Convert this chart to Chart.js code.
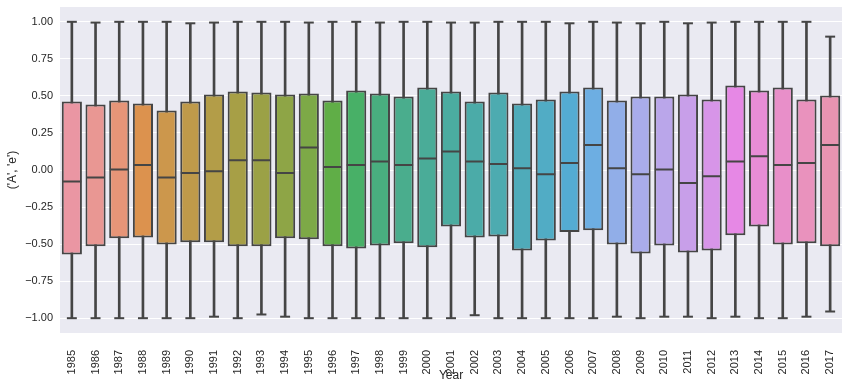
<!DOCTYPE html>
<html>
<head>
<meta charset="utf-8">
<script src="https://cdn.jsdelivr.net/npm/chart.js@4.4.1/dist/chart.umd.min.js"></script>
<style>
  html, body { margin: 0; padding: 0; background: #ffffff; }
  #wrap { width: 848px; height: 390px; position: relative; }
</style>
</head>
<body>
<div id="wrap"><canvas id="c" width="848" height="390"></canvas></div>
<script>
// ---- data ----
const years = ['1985','1986','1987','1988','1989','1990','1991','1992','1993','1994',
               '1995','1996','1997','1998','1999','2000','2001','2002','2003','2004',
               '2005','2006','2007','2008','2009','2010','2011','2012','2013','2014',
               '2015','2016','2017'];
const whiskerLow = [-1.0,-1.0,-1.0,-1.0,-1.0,-1.0,-0.99,-1.0,-0.975,-0.99,
                    -1.0,-1.0,-1.0,-1.0,-1.0,-1.0,-1.0,-0.98,-1.0,-1.0,
                    -1.0,-1.0,-1.0,-0.99,-1.0,-0.99,-0.99,-1.0,-0.99,-1.0,
                    -1.0,-0.99,-0.955];
const q1 = [-0.570,-0.515,-0.461,-0.455,-0.502,-0.488,-0.488,-0.515,-0.515,-0.461,
            -0.468,-0.515,-0.529,-0.509,-0.495,-0.522,-0.381,-0.455,-0.448,-0.543,
            -0.475,-0.419,-0.407,-0.502,-0.563,-0.509,-0.556,-0.543,-0.441,-0.381,
            -0.502,-0.495,-0.515];
const median = [-0.077,-0.050,0.004,0.033,-0.050,-0.021,-0.009,0.065,0.065,-0.021,
                0.152,0.020,0.033,0.058,0.033,0.078,0.125,0.058,0.040,0.011,
                -0.028,0.047,0.168,0.011,-0.028,0.004,-0.088,-0.043,0.058,0.092,
                0.033,0.047,0.168];
const q3 = [0.463,0.442,0.469,0.449,0.402,0.463,0.510,0.530,0.523,0.510,
            0.516,0.469,0.537,0.516,0.496,0.557,0.530,0.463,0.523,0.449,
            0.476,0.530,0.557,0.469,0.496,0.496,0.510,0.476,0.570,0.537,
            0.557,0.476,0.503];
const whiskerHigh = [1.0,0.995,1.0,1.0,1.0,0.99,0.995,1.0,1.0,1.0,
                     0.995,1.0,1.0,0.995,1.0,1.0,0.995,0.995,1.0,1.0,
                     1.0,0.99,1.0,0.995,0.99,1.0,0.99,0.995,1.0,1.0,
                     1.0,1.0,0.90];
const yTicks = [-1.0,-0.75,-0.5,-0.25,0.0,0.25,0.5,0.75,1.0];

// ---- seaborn-like husl palette (l=.7, desaturated 0.75) ----
const M = [[3.2406,-1.5372,-0.4986],[-0.9689,1.8758,0.0415],[0.0557,-0.2040,1.0570]];
const refU = 0.19784, refV = 0.46834;
function maxChroma(L, H) {
  const hr = H * Math.PI / 180, sinH = Math.sin(hr), cosH = Math.cos(hr);
  const sub1 = Math.pow(L + 16, 3) / 1560896.0;
  const sub2 = sub1 > 0.008856 ? sub1 : L / 903.3;
  let res = Infinity;
  for (const [m1, m2, m3] of M) {
    const top = (0.99915*m1 + 1.05122*m2 + 1.14460*m3) * sub2;
    const rb = 0.86330*m3 - 0.17266*m2;
    const lb = 0.12949*m3 - 0.38848*m1;
    const bottom = (rb*sinH + lb*cosH) * sub2;
    for (const t of [0, 1]) {
      const C = L * (top - 1.05122*t) / (bottom + 0.17266*sinH*t);
      if (C > 0 && C < res) res = C;
    }
  }
  return res;
}
function huslToRgb(H, S, L) {
  const C = maxChroma(L, H) / 100 * S;
  const hr = H * Math.PI / 180;
  const U = Math.cos(hr) * C, V = Math.sin(hr) * C;
  const t = (L + 16) / 116;
  const varY = Math.pow(t,3) > 0.008856 ? Math.pow(t,3) : (116*t - 16) / 903.3;
  const varU = U / (13*L) + refU, varV = V / (13*L) + refV;
  const Y = varY;
  const X = -(9*Y*varU) / ((varU - 4)*varV - varU*varV);
  const Z = (9*Y - 15*varV*Y - varV*X) / (3*varV);
  return M.map(r => {
    const c = r[0]*X + r[1]*Y + r[2]*Z;
    const v = c <= 0.0031308 ? 12.92*c : 1.055*Math.pow(c, 1/2.4) - 0.055;
    return Math.min(1, Math.max(0, v));
  });
}
function rgbToHls(r,g,b){
  const mx=Math.max(r,g,b), mn=Math.min(r,g,b), l=(mx+mn)/2;
  if (mx===mn) return [0,l,0];
  const d=mx-mn, s = l<=0.5 ? d/(mx+mn) : d/(2-mx-mn);
  let h;
  if (mx===r) h=(g-b)/d; else if (mx===g) h=2+(b-r)/d; else h=4+(r-g)/d;
  h=(h/6)%1; if(h<0)h+=1;
  return [h,l,s];
}
function hlsToRgb(h,l,s){
  if (s===0) return [l,l,l];
  const m2 = l<=0.5 ? l*(1+s) : l+s-l*s, m1 = 2*l-m2;
  const f = (hue)=>{ hue=((hue%1)+1)%1;
    if (hue<1/6) return m1+(m2-m1)*hue*6;
    if (hue<0.5) return m2;
    if (hue<2/3) return m1+(m2-m1)*(2/3-hue)*6;
    return m1; };
  return [f(h+1/3), f(h), f(h-1/3)];
}
const toHex = (rgb) => '#' + rgb.map(v => Math.round(v*255).toString(16).padStart(2,'0')).join('');
const n = years.length;
const rgbColors = years.map((_, i) => {
  const h = ((i / n + 0.01) % 1) * 359;
  const rgb = huslToRgb(h, 0.9*99, 0.7*99);
  const [hh, ll, ss] = rgbToHls(...rgb);
  return hlsToRgb(hh, ll, ss*0.75);
});
const boxColors = rgbColors.map(toHex);
const lum = Math.min(...rgbColors.map(c => rgbToHls(...c)[1])) * 0.6;
const gray = toHex([lum, lum, lum]);

const catW = (ctx) => {
  const xs = ctx.chart.scales && ctx.chart.scales.x;
  return xs ? xs.width / years.length : 23.7;
};

const bgPlugin = {
  id: 'bg',
  beforeDraw(chart) {
    const {ctx, chartArea: a} = chart;
    ctx.save();
    ctx.fillStyle = '#EAEAF2';
    ctx.fillRect(a.left, a.top, a.right - a.left, a.bottom - a.top);
    ctx.restore();
  }
};

new Chart(document.getElementById('c'), {
  type: 'bar',
  data: {
    labels: years,
    datasets: [
      {
        type: 'line', label: 'median', data: median, showLine: false,
        pointStyle: 'line', pointRadius: (ctx) => catW(ctx) * 0.4,
        pointBorderColor: gray, pointBorderWidth: 2, pointBackgroundColor: gray,
        order: 0
      },
      {
        type: 'line', label: 'capHigh', data: whiskerHigh, showLine: false,
        pointStyle: 'line', pointRadius: (ctx) => catW(ctx) * 0.21,
        pointBorderColor: gray, pointBorderWidth: 2, order: 1
      },
      {
        type: 'line', label: 'capLow', data: whiskerLow, showLine: false,
        pointStyle: 'line', pointRadius: (ctx) => catW(ctx) * 0.21,
        pointBorderColor: gray, pointBorderWidth: 2, order: 1
      },
      {
        type: 'bar', label: 'box', data: q1.map((v, i) => [v, q3[i]]),
        backgroundColor: boxColors, borderColor: gray, borderWidth: 2,
        borderSkipped: false, grouped: false,
        barPercentage: 0.85, categoryPercentage: 1.0, order: 2
      },
      {
        type: 'bar', label: 'whisker', data: whiskerLow.map((v, i) => [v, whiskerHigh[i]]),
        backgroundColor: gray, borderWidth: 0, barThickness: 2, grouped: false,
        order: 3
      }
    ]
  },
  options: {
    responsive: false,
    animation: false,
    layout: { padding: { top: 7, right: 6, left: 0, bottom: 0 } },
    plugins: { legend: { display: false }, tooltip: { enabled: false } },
    scales: {
      x: {
        offset: true,
        grid: { display: false },
        border: { display: false },
        ticks: {
          color: '#262626', font: { family: 'Liberation Sans', size: 11 },
          minRotation: 90, maxRotation: 90, padding: 9, autoSkip: false
        },
        title: {
          display: true, text: 'Year', color: '#262626',
          font: { family: 'Liberation Sans', size: 12 }, padding: { top: 0, bottom: 7 }
        },
        afterFit(s) { s.height = 57; s.paddingLeft = 0; s.paddingRight = 0; }
      },
      y: {
        min: -1.1, max: 1.1,
        grid: { color: '#ffffff', lineWidth: 1, drawTicks: false },
        border: { display: false },
        afterBuildTicks(axis) { axis.ticks = yTicks.map(v => ({ value: v })); },
        ticks: {
          color: '#262626', font: { family: 'Liberation Sans', size: 11 }, padding: 7,
          callback: (v) => (v < 0 ? '\u2212' : '') + Math.abs(v).toFixed(2)
        },
        title: {
          display: true, text: "('A', 'e')", color: '#262626',
          font: { family: 'Liberation Sans', size: 12 }, padding: { top: 5, bottom: 0 }
        },
        afterFit(s) { s.width = 60; s.paddingTop = 0; s.paddingBottom = 0; }
      }
    }
  },
  plugins: [bgPlugin]
});
</script>
</body>
</html>
